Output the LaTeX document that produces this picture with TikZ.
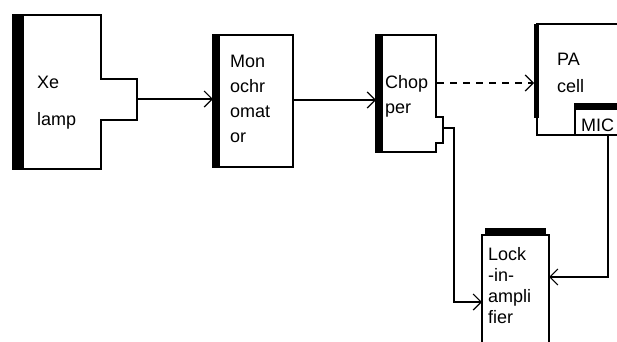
\documentclass[tikz,border=0pt]{standalone}
\usepackage{fontspec}
\setmainfont{Liberation Sans}
\usetikzlibrary{arrows.meta}
\begin{document}
\begin{tikzpicture}[x=1pt,y=-1pt,
  edge/.style={line width=1.8pt, line join=miter},
  wire/.style={line width=1.5pt, -{Straight Barb[length=8pt,width=16pt,line width=1.2pt]}},
  dwire/.style={wire, dash pattern=on 7pt off 6pt},
  lbl/.style={anchor=base west, inner sep=0pt, align=left},
  f37/.style={font=\fontsize{18}{37}\selectfont},
  f25/.style={font=\fontsize{18}{25}\selectfont},
  f27/.style={font=\fontsize{18}{27}\selectfont},
  f21/.style={font=\fontsize{18}{21}\selectfont},
  ]
\useasboundingbox (0,0) rectangle (617,341);
\clip (0,0) rectangle (617,341);
% Xe lamp
\draw[edge] (13,15) -- (101,15) -- (101,79) -- (137,79) -- (137,120) -- (101,120) -- (101,169) -- (13,169) -- cycle;
\fill (13,15) rectangle (24,168);
\coordinate (xeout) at (137,99);
\node[lbl,f37] (xe) at (37,125) {Xe\\lamp};
% Monochromator
\draw[edge] (213,35) rectangle (293,167);
\fill (213,35) rectangle (220,167);
\coordinate (monoin) at (213,99);
\coordinate (monoout) at (293,100);
\node[lbl,f25] (mono) at (230,142) {Mon\\ochr\\omat\\or};
% Chopper
\draw[edge] (376,35) -- (436,35) -- (436,117) -- (443,117) -- (443,143) -- (436,143) -- (436,152) -- (376,152) -- cycle;
\fill (376,35) rectangle (383,152);
\coordinate (chopin) at (376,100);
\coordinate (chopout) at (437,83);
\coordinate (chopsig) at (443,128);
\coordinate (chopbend) at (454,128);
\node[lbl,f25] (chop) at (385,113) {Chop\\per};
% PA cell
\draw[edge] (625,24) -- (537,24) -- (537,135) -- (625,135);
\fill (534,24) rectangle (539,118);
\coordinate (pain) at (534,83);
\node[lbl,f27] (pa) at (557,92) {PA\\cell};
% MIC
\fill (575,103) rectangle (625,110);
\draw[edge] (575,103) -- (575,135);
\node[lbl,f25] (mic) at (581,131) {MIC};
\coordinate (micout) at (608,135);
% Lock-in amplifier
\draw[edge] (482,360) -- (482,235) -- (549,235) -- (549,360);
\fill (485,228) rectangle (546,235);
\node[lbl,f21] (lock) at (488,323) {Lock\\-in-\\ampli\\fier};
\coordinate (lockinA) at (549,277);
\coordinate (lockinB) at (482,302);
% connectors
\draw[wire] (xeout) -- (monoin);
\draw[wire] (monoout) -- (chopin);
\draw[dwire] (chopout) -- (pain);
\draw[wire] (micout) |- (lockinA);
\draw[wire] (chopsig) -- (chopbend) |- (lockinB);
\end{tikzpicture}
\end{document}
